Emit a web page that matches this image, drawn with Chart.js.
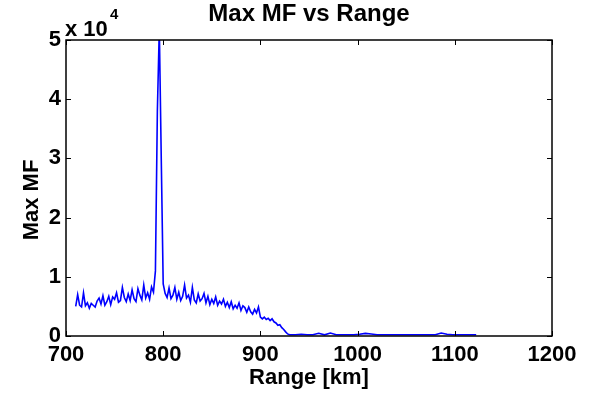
<!DOCTYPE html>
<html lang="en">
  <head>
    <meta charset="UTF-8" />
    <title>Max MF vs Range</title>
    <script src="https://cdn.jsdelivr.net/npm/chart.js@4.4.1/dist/chart.umd.min.js"></script>
    <style>
      html, body { margin: 0; padding: 0; background: #fff; }
      #wrap { width: 590px; height: 395px; }
    </style>
  </head>
  <body>
    <div id="wrap"><canvas id="mfChart" width="590" height="395"></canvas></div>

    <script>
      // range samples [km] (rows of 10)
      var rangeKm = [
        710, 712, 714, 716, 718, 720, 722, 724, 726, 728,
        730, 732, 734, 736, 738, 740, 742, 744, 746, 748,
        750, 752, 754, 756, 758, 760, 762, 764, 766, 768,
        770, 772, 774, 776, 778, 780, 782, 784, 786, 788,
        790, 792, 794, 796, 798, 800, 802, 804, 806, 808,
        810, 812, 814, 816, 818, 820, 822, 824, 826, 828,
        830, 832, 834, 836, 838, 840, 842, 844, 846, 848,
        850, 852, 854, 856, 858, 860, 862, 864, 866, 868,
        870, 872, 874, 876, 878, 880, 882, 884, 886, 888,
        890, 892, 894, 896, 898, 900, 902, 904, 906, 908,
        910, 912, 914, 916, 918, 920, 922, 924, 926, 928,
        930, 936, 942, 948, 954, 960, 966, 972, 978, 984,
        990, 996, 1002, 1008, 1014, 1020, 1026, 1032, 1038, 1044,
        1050, 1056, 1062, 1068, 1074, 1080, 1086, 1092, 1098, 1104,
        1110, 1116, 1122
      ];

      // max matched filter output
      var maxMF = [
        5000, 7000, 5200, 4900, 7300, 5100, 5600, 4700, 5500, 5200,
        4900, 5900, 6400, 5400, 6800, 5200, 5800, 6700, 5300, 6600,
        6200, 7300, 5700, 6000, 8200, 6500, 5800, 7100, 6000, 7800,
        6300, 5800, 8000, 6900, 6100, 8600, 6400, 7300, 6200, 8300,
        7400, 11000, 38000, 52000, 30000, 8800, 7200, 6500, 8100, 6300,
        6900, 8200, 6200, 7400, 6000, 6700, 8600, 6400, 6900, 5700,
        8200, 6100, 5600, 7100, 5900, 6300, 7200, 5600, 6700, 5300,
        6200, 5500, 6600, 5200, 5900, 5400, 6200, 5000, 5700, 4800,
        5800, 4600, 5200, 4700, 5600, 4300, 5100, 4800, 4000, 4900,
        4100, 3700, 4500, 3900, 4900, 3200, 2900, 3200, 2800, 3000,
        2600, 2900, 2400, 2200, 1800, 1900, 1400, 1100, 700, 350,
        200, 200, 300, 200, 200, 450, 200, 500, 200, 200,
        200, 200, 300, 450, 350, 200, 200, 200, 200, 200,
        200, 200, 200, 200, 200, 200, 500, 300, 200, 200,
        200, 200, 200
      ];

      var xTicks = [700, 800, 900, 1000, 1100, 1200];
      var yTicks = [0, 10000, 20000, 30000, 40000, 50000];

      var boldFont = { family: "'Liberation Sans', Arial, sans-serif", size: 22, weight: "bold" };

      // matlab style box, inward ticks, exponent and ylabel
      var matlabAxes = {
        id: "matlabAxes",
        afterDraw: function (chart) {
          var ctx = chart.ctx;
          var a = chart.chartArea;
          var xs = chart.scales.x;
          var ys = chart.scales.y;
          ctx.save();
          ctx.strokeStyle = "#000";
          ctx.lineWidth = 1.5;
          ctx.strokeRect(a.left, a.top, a.right - a.left, a.bottom - a.top);
          ctx.lineWidth = 1;
          ctx.beginPath();
          xs.ticks.forEach(function (t) {
            var px = Math.round(xs.getPixelForValue(t.value)) + 0.5;
            ctx.moveTo(px, a.bottom);
            ctx.lineTo(px, a.bottom - 5);
            ctx.moveTo(px, a.top);
            ctx.lineTo(px, a.top + 5);
          });
          ys.ticks.forEach(function (t) {
            var py = Math.round(ys.getPixelForValue(t.value)) + 0.5;
            ctx.moveTo(a.left, py);
            ctx.lineTo(a.left + 5, py);
            ctx.moveTo(a.right, py);
            ctx.lineTo(a.right - 5, py);
          });
          ctx.stroke();

          ctx.fillStyle = "#000";
          ctx.textAlign = "left";
          ctx.textBaseline = "alphabetic";
          ctx.font = "bold 22px 'Liberation Sans', Arial, sans-serif";
          ctx.fillText("x 10", a.left - 1, 36);
          ctx.font = "bold 15px 'Liberation Sans', Arial, sans-serif";
          ctx.fillText("4", a.left + 44, 19);

          ctx.translate(32, 200);
          ctx.rotate(-Math.PI / 2);
          ctx.textAlign = "center";
          ctx.textBaseline = "middle";
          ctx.font = "bold 22px 'Liberation Sans', Arial, sans-serif";
          ctx.fillText("Max MF", 0, 0);
          ctx.restore();
        },
      };

      var points = rangeKm.map(function (r, i) {
        return { x: r, y: maxMF[i] };
      });

      new Chart(document.getElementById("mfChart"), {
        type: "line",
        data: {
          datasets: [
            {
              data: points,
              borderColor: "#0000ff",
              borderWidth: 1.6,
              pointRadius: 0,
              tension: 0,
              fill: false,
            },
          ],
        },
        options: {
          responsive: false,
          animation: false,
          layout: { padding: { left: 0, right: 38, top: 0, bottom: 0 } },
          plugins: {
            legend: { display: false },
            tooltip: { enabled: false },
            title: {
              display: true,
              text: "Max MF vs Range",
              fullSize: false,
              color: "#000",
              font: { family: "'Liberation Sans', Arial, sans-serif", size: 24, weight: "bold" },
              padding: { top: 0, bottom: 11.2 },
            },
          },
          scales: {
            x: {
              type: "linear",
              min: 700,
              max: 1200,
              afterFit: function (s) { s.height = 59; },
              afterBuildTicks: function (s) {
                s.ticks = xTicks.map(function (v) { return { value: v }; });
              },
              grid: { display: false, drawTicks: false },
              border: { display: false },
              ticks: {
                color: "#000",
                font: boldFont,
                padding: 6,
                maxRotation: 0,
                callback: function (v) { return String(v); },
              },
              title: {
                display: true,
                text: "Range [km]",
                color: "#000",
                font: boldFont,
                padding: { top: 0, bottom: 4 },
              },
            },
            y: {
              min: 0,
              max: 50000,
              afterFit: function (s) { s.width = 66; },
              afterBuildTicks: function (s) {
                s.ticks = yTicks.map(function (v) { return { value: v }; });
              },
              grid: { display: false, drawTicks: false },
              border: { display: false },
              ticks: {
                color: "#000",
                font: boldFont,
                padding: 5,
                callback: function (v) { return String(v / 10000); },
              },
            },
          },
        },
        plugins: [matlabAxes],
      });
    </script>
  </body>
</html>
